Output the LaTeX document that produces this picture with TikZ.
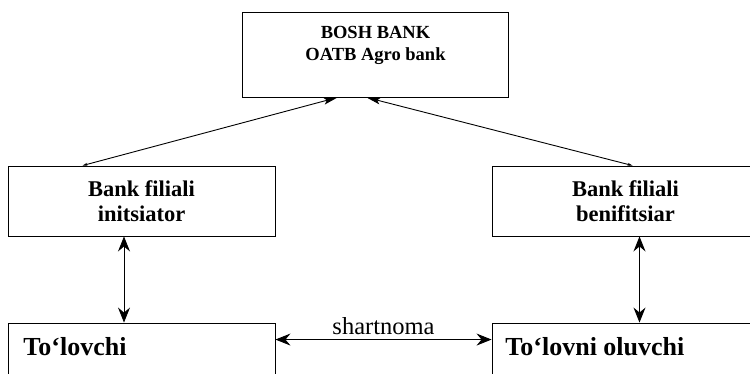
\documentclass[tikz,border=0pt]{standalone}
\usepackage{fontspec}
\setmainfont{Liberation Serif}
\usetikzlibrary{arrows.meta,positioning}
\tikzset{
  blok/.style={draw,inner sep=0pt},
  yozuv/.style={font=\bfseries,align=center,inner sep=0pt},
  uch/.style={{Stealth[length=5pt,width=3pt]}-{Stealth[length=14pt,width=7pt,inset=3pt]}},
  ikki/.style={{Stealth[length=15pt,width=12pt,inset=5pt]}-{Stealth[length=15pt,width=12pt,inset=5pt]}},
}
\begin{document}
\begin{tikzpicture}[x=1pt,y=-1pt,line width=0.9pt]
    \useasboundingbox(0,0)rectangle(750,373);
    \clip(0,0)rectangle(750,373);
    \node[blok,minimum width=266pt,minimum height=85pt](bosh)at(375.5,54.5){};
    \node[blok,minimum width=267pt,minimum height=70pt](init)at(141.5,201){};
    \node[blok,minimum width=267pt,minimum height=70pt](benif)at(625.5,201){};
    \node[blok,minimum width=267pt,minimum height=60pt](tolov)at(141.5,353){};
    \node[blok,minimum width=267pt,minimum height=60pt](oluv)at(625.5,353){};
    \node[yozuv,font=\bfseries\fontsize{18.5}{22}\selectfont](boshmatn)at(375.5,45.4){BOSH BANK\\OATB Agro bank};
    \node[yozuv,font=\bfseries\fontsize{22.5}{25}\selectfont](initmatn)at(init){Bank filiali\\initsiator};
    \node[yozuv,font=\bfseries\fontsize{22.5}{25}\selectfont](benifmatn)at(benif){Bank filiali\\benifitsiar};
    \node[yozuv,font=\bfseries\fontsize{26}{30}\selectfont,anchor=base west](tolovmatn)at(23,355.5){To‘lovchi};
    \node[yozuv,font=\bfseries\fontsize{26}{30}\selectfont,anchor=base west](oluvmatn)at(505,355){To‘lovni oluvchi};
    \draw[uch]([xshift=75pt]init.north west)--([xshift=95.5pt]bosh.south west);
    \draw[uch]([xshift=141pt]benif.north west)--([xshift=124.5pt]bosh.south west);
    \draw[ikki]([xshift=-17.5pt]init.south)--([xshift=-17.5pt]tolov.north);
    \draw[ikki]([xshift=14pt]benif.south)--([xshift=14pt]oluv.north);
    \draw[ikki]([yshift=-17pt]tolov.north east)--([yshift=-17pt]oluv.north west)
        node[midway,above=4pt,font=\fontsize{24.5}{28}\selectfont,inner sep=0pt](shart){shartnoma};
\end{tikzpicture}
\end{document}
